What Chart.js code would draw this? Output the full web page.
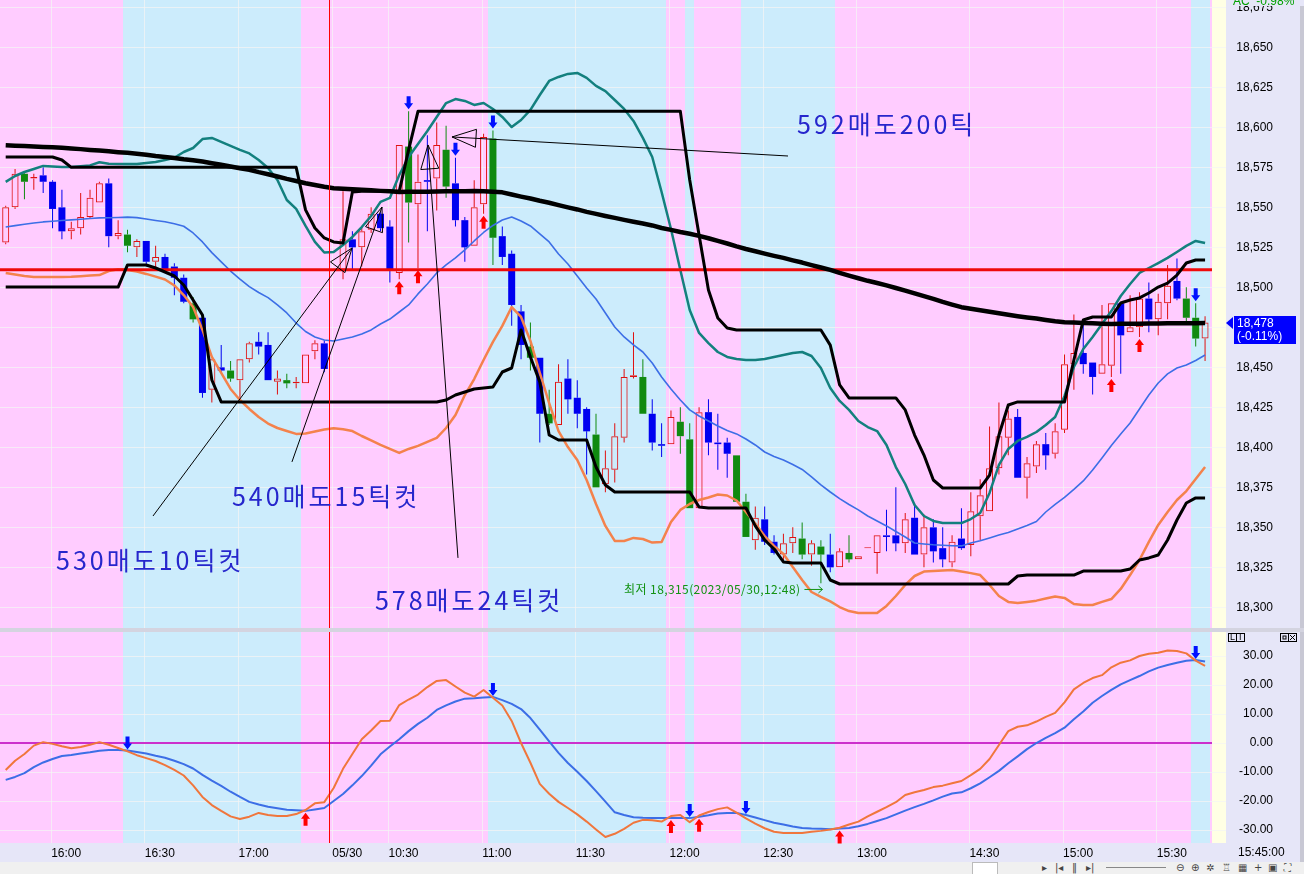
<!DOCTYPE html>
<html><head><meta charset="utf-8">
<script src="https://cdn.jsdelivr.net/npm/chart.js@4.4.1/dist/chart.umd.min.js"></script>
<style>
html,body{margin:0;padding:0;background:#fff;}
#wrap{position:relative;width:1304px;height:874px;overflow:hidden;background:#e6e6f8;}
#pc{position:absolute;left:0;top:0;}
#sep{position:absolute;left:0;top:628px;width:1304px;height:4px;background:#d4d4e0;}
#oc{position:absolute;left:0;top:632px;}
#tb{position:absolute;left:0;top:862px;width:1304px;height:12px;background:#f0f0f0;font:10px 'DejaVu Sans';color:#444;line-height:12px;white-space:nowrap;}
#tb span{position:absolute;top:0;}
</style></head><body><div id="wrap">
<canvas id="pc" width="1304" height="628"></canvas>
<div id="sep"></div>
<canvas id="oc" width="1304" height="242"></canvas>
<div id="tb">
<span style="left:972px;width:24px;height:11px;background:#fff;border:1px solid #bbb;top:0"></span>
<span style="left:1042px">▸</span><span style="left:1055px">|◂</span><span style="left:1072px">‖</span><span style="left:1086px">▸|</span>
<span style="left:1106px;top:5px;width:60px;height:1px;background:#888"></span>
<span style="left:1176px">⊖</span><span style="left:1191px">⊕</span><span style="left:1206px">✲</span><span style="left:1222px">♖</span><span style="left:1238px">▦</span><span style="left:1254px">+</span><span style="left:1268px">▣</span><span style="left:1284px">⛶</span>
</div>
</div>
<script>
// ---------------- DATA ----------------
const open = [18528,18550,18571,18568,18570,18566,18550,18535,18537,18544,
18553,18565,18532,18533,18525,18529,18516,18519,18513,18506,
18490,18481,18436,18450,18448,18442,18455,18466,18464,18441,
18442,18440,18440,18460,18465,null,18511,18530,18525,18536,
18546,18538,18509,18588,18552,18567,18568,18586,18565,18542,
18526,18552,18593,18532,18521,18485,18463,18456,18421,18414,
18443,18431,18424,18408,18377,18386,18406,18444,18444,18421,
18402,18402,18416,18405,18362,18422,18403,18403,18395,18366,
18342,18355,18341,18333,18340,18343,18333,18338,18333,18325,
18334,18330,18337,18334,18345,18345,18340,18356,18333,18350,
18337,18328,18343,18339,18357,18360,18387,18406,18419,18381,
18388,18402,18396,18411,18452,18459,18453,18446,18451,18490,
18472,18475,18493,18480,18490,18504,18493,18481,18468];
const high = [18551,18574,18572,18571,18575,18567,18561,18541,18559,18561,
18566,18568,18542,18536,18530,18529,18526,18521,18515,18508,
18494,18481,18455,18464,18454,18455,18466,18472,18472,18448,
18446,18444,18458,18467,18467,null,18560,18535,18538,18550,
18547,18542,18589,18610,18583,18595,18603,18601,18581,18544,
18567,18596,18598,18538,18523,18489,18478,18456,18436,18452,
18455,18442,18425,18421,18398,18415,18449,18472,18455,18430,
18415,18423,18425,18415,18425,18430,18421,18406,18395,18371,
18363,18363,18345,18346,18350,18353,18342,18342,18346,18337,
18345,18332,18337,18345,18361,18375,18359,18365,18358,18355,
18350,18345,18362,18372,18380,18413,18428,18423,18424,18394,
18404,18409,18415,18458,18483,18478,18453,18489,18490,18490,
18495,18497,18503,18496,18514,18518,18500,18490,18482];
const low = [18527,18549,18555,18561,18559,18537,18530,18530,18533,18543,
18553,18525,18530,18522,18519,18513,18511,18509,18495,18490,
18478,18431,18428,18447,18441,18429,18453,18458,18442,18433,
18437,18437,18440,18455,18447,null,18505,18511,18513,18534,
18535,18503,18505,18528,18512,18535,18548,18556,18538,18516,
18526,18546,18514,18514,18476,18455,18448,18403,18414,18414,
18421,18412,18383,18375,18372,18378,18403,18443,18421,18398,
18394,18402,18396,18362,18362,18395,18386,18381,18366,18344,
18336,18339,18333,18328,18334,18330,18326,18315,18322,18325,
18328,18330,18337,18321,18335,18335,18334,18333,18325,18328,
18325,18325,18336,18332,18342,18360,18383,18395,18381,18368,
18384,18386,18393,18409,18436,18446,18433,18446,18444,18446,
18472,18469,18472,18470,18480,18492,18478,18463,18454];
const close = [18550,18571,18566,18569,18566,18549,18535,18537,18544,18556,
18565,18532,18534,18526,18529,18516,18519,18511,18506,18491,
18480,18434,18455,18448,18443,18455,18465,18463,18442,18443,
18440,18441,18458,18465,18449,null,18530,18525,18535,18546,
18537,18511,18589,18553,18566,18566,18589,18563,18542,18525,
18550,18594,18531,18519,18489,18464,18456,18421,18415,18441,
18430,18421,18410,18375,18387,18407,18444,18445,18421,18403,
18401,18419,18407,18362,18422,18403,18402,18396,18366,18344,
18356,18341,18334,18340,18344,18333,18340,18333,18325,18335,
18330,18332,18337,18345,18344,18340,18355,18333,18350,18335,
18330,18341,18337,18360,18370,18387,18407,18418,18381,18390,
18402,18395,18410,18452,18459,18452,18444,18452,18490,18470,
18475,18493,18480,18491,18501,18493,18481,18468,18478];
// down bars drawn in green instead of blue
const greenBars = [2,13,20,24,30,43,47,52,56,58,63,68,72,73,78,79,85,87,90,126,127];

const ma200 = [18588.8,18588.5,18588.3,18588.0,18587.7,18587.5,18587.2,18586.8,18586.4,18585.9,
18585.5,18585.0,18584.5,18584.1,18583.5,18582.9,18582.1,18581.5,18580.9,18580.1,
18579.5,18578.7,18577.6,18576.6,18575.5,18574.5,18573.5,18572.0,18570.7,18569.3,
18567.8,18566.5,18565.1,18564.0,18562.9,18562.0,18561.7,18561.3,18561.0,18560.7,
18560.3,18560.0,18559.6,18559.7,18559.7,18559.8,18559.9,18560.0,18560.0,18560.1,
18560.2,18560.0,18559.8,18559.4,18558.0,18556.7,18555.5,18554.1,18552.9,18551.4,
18550.0,18548.7,18547.2,18545.9,18544.6,18543.4,18542.2,18541.0,18539.9,18538.7,
18537.1,18535.9,18534.6,18533.5,18532.2,18530.7,18529.0,18527.4,18525.6,18524.0,
18522.6,18521.1,18519.7,18518.4,18516.9,18515.5,18513.9,18512.4,18510.9,18509.0,
18507.3,18505.7,18504.1,18502.7,18501.2,18499.6,18498.0,18496.2,18494.5,18492.8,
18490.9,18489.2,18487.6,18486.6,18485.7,18484.7,18483.8,18482.9,18482.0,18481.2,
18480.5,18479.6,18478.8,18478.2,18478.0,18477.8,18477.5,18477.3,18477.1,18477.2,
18477.2,18477.3,18477.4,18477.4,18477.5,18477.5,18477.6,18477.6,18477.7];
const chanHigh = [18581.5,18581.5,18581.5,18581.5,18581.5,18581.5,18579.6,18575,18575,18575,
18575,18575,18575,18575,18575,18575,18575,18575,18575,18575,
18575,18575,18575,18575,18575,18575,18575,18575,18575,18575,
18575,18575,18548.4,18537.1,18530.9,18528.4,18527.7,18559.6,18560,18560,
18560,18560,18560,18585.9,18610,18610,18610,18610,18610,18610,
18610,18610,18610,18610,18610,18610,18610,18610,18610,18610,
18610,18610,18610,18610,18610,18610,18610,18610,18610,18610,
18610,18610,18610,18567.1,18532.7,18498.4,18480.8,18474.6,18473.4,18473.4,
18473.4,18473.4,18473.4,18473.4,18473.4,18473.4,18473.4,18473.4,18463.9,18439,
18430.9,18430.9,18430.9,18430.9,18430.9,18430.9,18423.4,18407.7,18395.2,18379.6,
18374.6,18374.6,18374.6,18374.6,18374.6,18382.7,18407.7,18426.5,18428.4,18428.4,
18428.4,18428.4,18428.4,18428.4,18454.6,18479.6,18481.5,18481.5,18481.5,18490.2,
18492.1,18493.4,18496.5,18500.2,18502.7,18507.7,18515.2,18517.1,18517.1];
const chanLow = [18500.2,18500.2,18500.2,18500.2,18500.2,18500.2,18500.2,18500.2,18500.2,18500.2,
18500.2,18500.2,18500.2,18514,18514,18514,18512.1,18509.6,18507.1,18501.5,
18492.1,18482.7,18442.1,18428.4,18428.4,18428.4,18428.4,18428.4,18428.4,18428.4,
18428.4,18428.4,18428.4,18428.4,18428.4,18428.4,18428.4,18428.4,18428.4,18428.4,
18428.4,18428.4,18428.4,18428.4,18428.4,18428.4,18428.4,18429.6,18432.7,18434.6,
18436.5,18437.1,18437.7,18447.1,18449.6,18473.4,18456.5,18440.9,18407.7,18404.6,
18404.6,18404.6,18404.6,18387.7,18376.5,18372.1,18372.1,18372.1,18372.1,18372.1,
18372.1,18372.1,18372.1,18372.1,18362.7,18362.1,18362.1,18362.1,18362.1,18362.1,
18350.9,18342.1,18336.5,18328.4,18327.7,18327.7,18327.7,18327.7,18317.1,18314.6,
18314.6,18314.6,18314.6,18314.6,18314.6,18314.6,18314.6,18314.6,18314.6,18314.6,
18314.6,18314.6,18314.6,18314.6,18314.6,18314.6,18314.6,18314.6,18319.6,18320.2,
18320.2,18320.2,18320.2,18320.2,18320.2,18322.7,18322.7,18322.7,18322.7,18322.7,
18324,18329.6,18330.9,18332.7,18342.1,18354.6,18365.2,18368.4,18368.4];
const bbUpper = [18565.9,18569.6,18572.1,18574.0,18575.9,18575.5,18575.2,18575.2,18575.7,18576.2,
18578.2,18577.2,18577.1,18577.1,18577.1,18577.7,18578.4,18579.6,18581.0,18584.6,
18587.1,18592.7,18593.4,18590.9,18588.4,18585.9,18583.7,18579.6,18574.6,18567.1,
18554.6,18549.0,18538.4,18528.4,18521.8,18522.1,18526.5,18531.5,18537.7,18544.6,
18553.4,18555.9,18570.2,18581.5,18589.6,18597.7,18606.5,18615.2,18617.7,18616.5,
18614.0,18615.2,18611.5,18606.5,18600.2,18604.6,18610.9,18620.2,18629.0,18631.5,
18633.4,18634.0,18630.9,18625.9,18622.7,18617.1,18611.5,18604.0,18593.4,18581.5,
18559.6,18536.5,18510.9,18485.9,18471.5,18465.2,18459.6,18456.5,18455.2,18454.6,
18454.6,18455.2,18456.5,18457.7,18459.0,18459.6,18457.1,18449.6,18437.1,18429.0,
18423.4,18416.5,18412.7,18410.2,18401.5,18387.7,18377.1,18364.0,18357.1,18354.0,
18352.7,18352.7,18352.7,18355.2,18359.0,18371.5,18389.0,18399.0,18404.0,18406.5,
18409.6,18414.0,18419.0,18432.1,18450.2,18461.5,18469.0,18477.1,18485.2,18494.6,
18502.1,18509.0,18512.1,18515.2,18518.4,18522.1,18525.9,18529.0,18527.7];
const bbMid = [18537.7,18538.6,18539.4,18540.2,18540.9,18541.3,18541.8,18542.2,18542.6,18543.0,
18543.4,18543.5,18543.7,18543.9,18543.6,18542.7,18541.8,18541.0,18539.7,18538.2,
18534.0,18528.4,18521.7,18515.9,18510.2,18505.2,18500.5,18496.8,18493.6,18489.0,
18484.0,18477.7,18472.4,18469.0,18467.1,18466.5,18467.7,18469.0,18470.9,18473.4,
18477.1,18480.2,18484.6,18489.0,18495.9,18502.1,18509.0,18514.0,18518.4,18523.4,
18529.0,18534.3,18538.7,18542.1,18544.0,18541.5,18538.4,18533.4,18528.4,18520.9,
18514.6,18507.1,18499.6,18492.7,18484.0,18475.2,18469.0,18464.0,18459.6,18452.7,
18444.0,18436.5,18429.6,18423.4,18419.6,18416.5,18413.4,18410.5,18408.4,18405.2,
18401.5,18397.1,18394.3,18392.1,18389.3,18386.2,18381.5,18376.5,18372.1,18368.0,
18364.3,18360.9,18357.1,18354.0,18350.9,18347.4,18344.0,18340.2,18339.6,18339.1,
18338.8,18338.5,18338.4,18340.2,18341.6,18343.4,18345.2,18346.8,18349.0,18351.2,
18353.7,18359.6,18364.3,18368.7,18373.7,18379.0,18385.9,18393.4,18401.2,18408.4,
18415.2,18424.0,18432.7,18440.2,18445.9,18449.6,18451.5,18454.3,18457.7];
const bbLower = [18509.0,18508.0,18507.1,18506.5,18506.5,18506.5,18506.5,18506.6,18507.0,18507.4,
18507.7,18510.2,18511.3,18510.9,18509.9,18508.4,18506.7,18504.9,18501.2,18495.2,
18487.7,18473.4,18456.5,18446.5,18436.5,18429.6,18424.0,18419.0,18414.9,18412.1,
18410.2,18408.4,18408.7,18409.9,18411.2,18411.9,18411.3,18410.2,18407.1,18404.3,
18401.5,18399.0,18396.5,18399.0,18400.9,18403.4,18405.9,18412.1,18420.2,18432.7,
18442.7,18454.6,18465.9,18475.9,18487.7,18481.5,18466.5,18446.5,18427.7,18410.2,
18400.2,18392.1,18379.6,18364.6,18350.9,18341.5,18341.5,18343.4,18342.7,18340.5,
18340.9,18353.4,18360.9,18364.6,18367.1,18368.7,18370.5,18369.9,18366.8,18359.6,
18352.4,18344.6,18338.4,18333.4,18325.2,18317.1,18309.6,18306.5,18303.7,18300.2,
18297.7,18296.5,18296.5,18296.5,18300.9,18307.1,18314.0,18319.6,18322.4,18322.7,
18323.0,18323.4,18322.4,18321.4,18320.2,18314.0,18307.1,18303.4,18302.7,18303.4,
18304.2,18305.5,18306.8,18305.9,18302.1,18301.5,18301.5,18303.4,18305.2,18311.5,
18320.2,18329.6,18340.9,18351.5,18359.6,18367.1,18372.7,18380.2,18387.7];
const oscFast = [-9.3,-6.1,-3.8,-0.9,0.3,-0.3,-1.1,-1.8,-1.4,-0.6,
0.3,-0.6,-1.7,-2.9,-4.2,-5.2,-6.2,-7.6,-9.3,-11.2,
-14.6,-18.6,-21.4,-23.4,-25.3,-26.2,-25.4,-24.1,-24.8,-25.2,
-25.2,-24.5,-23.1,-20.8,-20.4,-15.5,-8.9,-3.8,1.3,4.3,
7.6,7.7,13.1,15.0,16.7,19.3,21.4,21.7,19.5,17.4,
16.0,18.3,15.6,12.9,7.6,0.0,-6.8,-14.1,-17.5,-20.3,
-22.4,-24.6,-27.1,-29.8,-32.4,-31.3,-29.6,-27.5,-26.5,-26.6,
-27.1,-25.2,-24.8,-27.3,-25.0,-23.8,-22.8,-22.2,-24.0,-26.0,
-27.8,-29.4,-30.6,-31.0,-31.0,-31.0,-30.6,-30.3,-29.8,-29.2,
-28.1,-27.1,-25.3,-23.7,-22.1,-20.4,-17.9,-17.0,-16.2,-15.2,
-14.7,-13.9,-13.1,-11.1,-8.9,-5.5,-0.7,4.1,5.6,6.1,
7.4,9.0,10.4,14.0,18.5,20.7,22.4,23.4,26.1,27.7,
28.5,30.0,30.8,31.1,31.9,31.7,30.9,28.4,26.6];
const oscSignal = [-12.7,-11.7,-10.4,-8.3,-6.7,-5.5,-4.5,-4.1,-3.6,-3.2,
-2.7,-2.4,-2.4,-2.6,-3.1,-3.6,-4.4,-5.1,-6.1,-7.3,
-8.8,-11.0,-13.0,-14.8,-16.8,-18.6,-20.3,-21.2,-22.0,-22.5,
-23.0,-23.2,-23.4,-22.9,-22.4,-20.0,-17.6,-14.6,-11.4,-7.8,
-3.9,-1.2,1.3,4.1,6.6,8.7,11.4,13.0,14.3,15.3,
15.4,15.7,15.9,14.8,13.5,11.7,8.6,4.6,0.6,-3.4,
-6.9,-9.9,-13.1,-16.6,-20.2,-23.9,-24.8,-25.6,-25.8,-25.9,
-25.9,-25.9,-25.9,-25.9,-25.4,-24.9,-24.3,-24.1,-24.1,-24.8,
-25.7,-26.6,-27.5,-28.1,-28.8,-29.3,-29.5,-29.6,-29.7,-29.5,
-29.3,-28.7,-27.9,-26.9,-25.9,-24.6,-23.3,-22.1,-21.0,-19.8,
-18.5,-17.4,-17.0,-15.6,-13.9,-11.8,-9.6,-7.0,-4.6,-2.1,
0.0,1.8,3.4,5.3,8.2,10.9,13.9,16.2,18.3,20.2,
21.7,23.1,24.7,26.0,26.9,27.7,28.4,28.6,28.1];

// signals (bar indices)
const priceSellSig = [43,48,52,127];
const priceBuySig = [42,44,51,118,121];
const oscSellSig = [13,52,73,79,127];
const oscBuySig = [32,71,74,89];

// time axis
const tickBars = [5,15,25,35,41,51,61,71,81,91,103,113,123];
const tickLabels = ['16:00','16:30','17:00','05/30','10:30','11:00','11:30','12:00','12:30','13:00','14:30','15:00','15:30'];
const dayBreakBar = 35;
const priceTicks = [18300,18325,18350,18375,18400,18425,18450,18475,18500,18525,18550,18575,18600,18625,18650,18675];
const oscTicks = [-30,-20,-10,0,10,20,30];
const hLinePrice = 18511;
const lastChgPct = -0.11;
const acPct = -0.98;
const lastTime = '15:45:00';

// drawn annotations (bar index, price)
const trendLines = [[15.72,18357.1,36.96,18524.6],[30.55,18390.9,40.16,18550.2],[48.27,18330.9,45.07,18589.0],[83.49,18582.1,47.63,18594.0]];
const noteTexts = ['592매도200틱','540매도15틱컷','530매도10틱컷','578매도24틱컷'];
const noteBars = [84.46,24.15,5.37,39.41];
const notePrices = [18601.5,18369,18329,18304];
const lowNote = '최저 18,315(2023/05/30,12:48)';
const lowNoteBar = 66.0, lowNotePrice = 18311.5;

// ---------------- STYLE / LAYOUT ----------------
const N = close.length;
const X_MIN = -0.608, X_MAX = 128.74;
const P_MAX = 18679.6, P_MIN = 18287.1;
const O_MAX = 38.28, O_MIN = -34.48;
const PINK = '#ffccff', SKY = '#ccecfc', YEL = '#ffffe4', LAV = '#e6e6f8';
const GRID = 'rgba(244,244,244,0.75)';
const RED = '#e01010', BLUE = '#0000f0', GREEN = '#108a10';
const FONT = "'Liberation Sans', Arial, sans-serif";

function candleColor(i){ if (close[i] >= open[i]) return RED; return greenBars.includes(i) ? GREEN : BLUE; }
function sellState(i){
  let st = false;
  for (let k=0;k<=i;k++){ if (oscSellSig.includes(k)) st = true; if (oscBuySig.includes(k)) st = false; }
  return st;
}

const bgPlugin = {
  id:'bg',
  beforeDraw(chart){
    const {ctx, chartArea:a, scales:{x}} = chart;
    ctx.save();
    ctx.fillStyle = LAV; ctx.fillRect(0,0,chart.width,chart.height);
    ctx.fillStyle = PINK; ctx.fillRect(a.left,a.top,a.right-a.left,a.bottom-a.top);
    ctx.fillStyle = SKY;
    for (let i=0;i<N;i++){
      if (sellState(i)){
        const x0 = Math.max(a.left, x.getPixelForValue(i-0.5));
        const x1 = Math.min(a.right, x.getPixelForValue(i+0.5));
        ctx.fillRect(Math.round(x0), a.top, Math.round(x1)-Math.round(x0), a.bottom-a.top);
      }
    }
    ctx.fillStyle = YEL; ctx.fillRect(a.right, a.top, 14, a.bottom-a.top);
    ctx.fillStyle = '#c8c8d4'; ctx.fillRect(chart.width-4, 0, 4, chart.height);
    ctx.restore();
  },
  afterDatasetsDraw(chart){
    const {ctx, chartArea:a, scales:{x}} = chart;
    const px = Math.round(x.getPixelForValue(dayBreakBar-0.5));
    ctx.save(); ctx.fillStyle='#ff0000';
    ctx.fillRect(px, a.top, 1, a.bottom-a.top); ctx.restore();
  }
};

function drawArrow(ctx, x, yTip, dir, color){
  const hw=4.5, hl=6, sw=2, sl=7;
  ctx.fillStyle=color; ctx.beginPath();
  ctx.moveTo(x, yTip);
  ctx.lineTo(x-hw, yTip-dir*hl); ctx.lineTo(x-sw, yTip-dir*hl);
  ctx.lineTo(x-sw, yTip-dir*(hl+sl)); ctx.lineTo(x+sw, yTip-dir*(hl+sl));
  ctx.lineTo(x+sw, yTip-dir*hl); ctx.lineTo(x+hw, yTip-dir*hl);
  ctx.closePath(); ctx.fill();
}

const pricePlugin = {
  id:'priceAnno',
  afterDatasetsDraw(chart){
    const {ctx, scales:{x,y}, chartArea:a} = chart;
    ctx.save();
    ctx.beginPath(); ctx.rect(a.left,a.top,a.right-a.left,a.bottom-a.top); ctx.clip();
    ctx.strokeStyle='#000'; ctx.lineWidth=1;
    trendLines.forEach(t=>{
      const x1=x.getPixelForValue(t[0]), y1=y.getPixelForValue(t[1]);
      const x2=x.getPixelForValue(t[2]), y2=y.getPixelForValue(t[3]);
      ctx.beginPath(); ctx.moveTo(x1,y1); ctx.lineTo(x2,y2); ctx.stroke();
      const L=Math.hypot(x2-x1,y2-y1), dx=(x2-x1)/L, dy=(y2-y1)/L, hl=24, hw=9;
      const bx=x2-dx*hl, by=y2-dy*hl;
      ctx.beginPath(); ctx.moveTo(x2,y2); ctx.lineTo(bx-dy*hw, by+dx*hw); ctx.lineTo(bx+dy*hw, by-dx*hw); ctx.closePath(); ctx.stroke();
    });
    ctx.fillStyle='#2626cc'; ctx.font="25px 'Noto Sans CJK KR'"; ctx.textBaseline='middle'; ctx.textAlign='left';
    try{ ctx.letterSpacing='3px'; }catch(e){}
    noteTexts.forEach((t,k)=>{ ctx.fillText(t, x.getPixelForValue(noteBars[k]), y.getPixelForValue(notePrices[k])); });
    try{ ctx.letterSpacing='0.4px'; }catch(e){}
    ctx.fillStyle='#139213'; ctx.font="12px 'Noto Sans CJK KR'";
    const lx=x.getPixelForValue(lowNoteBar), ly=y.getPixelForValue(lowNotePrice);
    ctx.fillText(lowNote, lx, ly);
    const w=ctx.measureText(lowNote).width;
    try{ ctx.letterSpacing='0px'; }catch(e){}
    ctx.strokeStyle='#139213'; ctx.beginPath(); ctx.moveTo(lx+w+4,ly+0.5); ctx.lineTo(lx+w+22,ly+0.5);
    ctx.moveTo(lx+w+18,ly-3); ctx.lineTo(lx+w+22,ly+0.5); ctx.lineTo(lx+w+18,ly+4); ctx.stroke();
    priceSellSig.forEach(i=> drawArrow(ctx, x.getPixelForValue(i), y.getPixelForValue(high[i])-2, 1, '#0010ff'));
    priceBuySig.forEach(i=> drawArrow(ctx, x.getPixelForValue(i), y.getPixelForValue(low[i])+2, -1, '#ff0000'));
    ctx.restore();
  },
  afterDraw(chart){
    const {ctx, scales:{y}, chartArea:a} = chart;
    const yc = Math.round(y.getPixelForValue(close[N-1]));
    ctx.save();
    ctx.fillStyle='#0000ff';
    ctx.beginPath(); ctx.moveTo(a.right+14,yc); ctx.lineTo(a.right+21,yc-6); ctx.lineTo(a.right+21,yc+6); ctx.closePath(); ctx.fill();
    ctx.fillRect(a.right+22, yc-7, 62, 28);
    ctx.fillStyle='#fff'; ctx.font="12px "+FONT; ctx.textBaseline='middle'; ctx.textAlign='left';
    ctx.fillText(close[N-1].toLocaleString('en-US'), a.right+25, yc+1);
    ctx.fillText('('+lastChgPct.toFixed(2)+'%)', a.right+25, yc+14);
    ctx.fillStyle=LAV; ctx.fillRect(a.right+16, 0, 80, 6);
    ctx.fillStyle='#00a000'; ctx.font="12px "+FONT; ctx.textBaseline='alphabetic';
    ctx.fillText('AC  '+acPct.toFixed(2)+'%', a.right+21, 5);
    ctx.restore();
  }
};

const oscPlugin = {
  id:'oscAnno',
  afterDatasetsDraw(chart){
    const {ctx, scales:{x,y}} = chart;
    ctx.save();
    oscSellSig.forEach(i=> drawArrow(ctx, x.getPixelForValue(i), y.getPixelForValue(oscSignal[i])-1, 1, '#0010ff'));
    oscBuySig.forEach(i=> drawArrow(ctx, x.getPixelForValue(i), y.getPixelForValue(oscSignal[i])+2, -1, '#ff0000'));
    ctx.restore();
  },
  afterDraw(chart){
    const {ctx, chartArea:a} = chart;
    ctx.save();
    ctx.fillStyle='#000'; ctx.font="12px "+FONT; ctx.textBaseline='middle'; ctx.textAlign='left';
    ctx.fillText(lastTime, a.right+26, a.bottom+10);
    ctx.strokeStyle='#000'; ctx.lineWidth=1; ctx.font="9px "+FONT;
    ctx.strokeRect(a.right+16.5, 1.5, 8, 8); ctx.strokeRect(a.right+24.5, 1.5, 8, 8);
    ctx.fillText('L', a.right+18, 6); ctx.fillText('I', a.right+27, 6);
    ctx.strokeRect(a.right+68.5, 1.5, 8, 8); ctx.strokeRect(a.right+76.5, 1.5, 8, 8);
    ctx.strokeRect(a.right+71, 4, 3, 3);
    ctx.beginPath(); ctx.moveTo(a.right+78,3); ctx.lineTo(a.right+83,8); ctx.moveTo(a.right+83,3); ctx.lineTo(a.right+78,8); ctx.stroke();
    ctx.restore();
  }
};

// ---------------- DATASETS ----------------
const bars = [...Array(N).keys()].filter(i=>open[i]!=null);
const pts = arr => arr.map((v,i)=>({x:i,y:v}));
const lineDs = (arr,color,w,order) => ({type:'line', data:pts(arr), borderColor:color, borderWidth:w, pointRadius:0, tension:0, fill:false, order:order, borderJoinStyle:'round'});
const barCommon = {type:'bar', grouped:false, inflateAmount:0, borderSkipped:false};

const priceDatasets = [
  lineDs(bbLower,'#f4824c',2.5,1),
  lineDs(bbMid,'#3c6ee6',1.6,1),
  lineDs(bbUpper,'#13807e',2.5,1),
  lineDs(chanLow,'#000',3,0),
  lineDs(chanHigh,'#000',3,0),
  lineDs(ma200,'#000',4.5,0),
  {type:'line', data:[{x:X_MIN,y:hLinePrice},{x:X_MAX,y:hLinePrice}], borderColor:'#ee0a0a', borderWidth:3, pointRadius:0, order:0},
  Object.assign({}, barCommon, {order:5, barThickness:1,
    data: bars.map(i=>({x:i, y:[low[i], Math.min(open[i],close[i])]})),
    backgroundColor: c=>candleColor(c.raw.x), borderWidth:0}),
  Object.assign({}, barCommon, {order:5, barThickness:1,
    data: bars.map(i=>({x:i, y:[Math.max(open[i],close[i]), high[i]]})),
    backgroundColor: c=>candleColor(c.raw.x), borderWidth:0}),
  Object.assign({}, barCommon, {order:4, barThickness:7, minBarLength:1,
    data: bars.map(i=>({x:i, y:[open[i], close[i]]})),
    backgroundColor: c=> close[c.raw.x]>=open[c.raw.x] ? 'rgba(0,0,0,0)' : candleColor(c.raw.x),
    borderColor: c=>candleColor(c.raw.x),
    borderWidth: c=> close[c.raw.x]>=open[c.raw.x] ? 1 : 0})
];

const xTicks = s => { s.ticks = tickBars.map(b=>({value:b-0.15})); };
const yAxisFit = s => { s.width=61; s.paddingTop=0; s.paddingBottom=0; };

new Chart(document.getElementById('pc'), {
  type:'line',
  data:{datasets:priceDatasets},
  options:{
    responsive:false, animation:false, devicePixelRatio:1,
    layout:{padding:{left:0,top:0,bottom:0,right:31}},
    plugins:{legend:{display:false}, tooltip:{enabled:false}},
    events:[],
    scales:{
      x:{type:'linear', min:X_MIN, max:X_MAX, offset:false, afterBuildTicks:xTicks,
         ticks:{display:false, autoSkip:false}, grid:{color:GRID, drawTicks:false, offset:false}, border:{display:false},
         afterFit:s=>{s.height=0;}},
      y:{position:'right', min:P_MIN, max:P_MAX,
         afterBuildTicks:s=>{ s.ticks = priceTicks.map(v=>({value:v})); },
         ticks:{autoSkip:false, callback:v=>v.toLocaleString('en-US'), font:{family:FONT,size:12}, color:'#000', padding:10, crossAlign:'far'},
         grid:{color:GRID, drawTicks:true, tickLength:14, tickColor:GRID}, border:{display:false},
         afterFit:yAxisFit}
    }
  },
  plugins:[bgPlugin, pricePlugin]
});

new Chart(document.getElementById('oc'), {
  type:'line',
  data:{datasets:[
    {type:'line', data:[{x:X_MIN,y:0},{x:X_MAX,y:0}], borderColor:'#cc30cc', borderWidth:2, pointRadius:0, order:2},
    lineDs(oscSignal,'#3c6ee6',2,1),
    lineDs(oscFast,'#f0763c',2,0)
  ]},
  options:{
    responsive:false, animation:false, devicePixelRatio:1,
    layout:{padding:{top:0,left:0,right:31,bottom:12}},
    plugins:{legend:{display:false}, tooltip:{enabled:false}},
    events:[],
    scales:{
      x:{type:'linear', min:X_MIN, max:X_MAX, offset:false, afterBuildTicks:xTicks,
         ticks:{autoSkip:false, maxRotation:0, align:'start', padding:3, font:{family:FONT,size:12}, color:'#000',
                callback:(v,k)=>tickLabels[k]},
         grid:{color:GRID, drawTicks:false, offset:false}, border:{display:false},
         afterFit:s=>{s.height=19; s.paddingLeft=0; s.paddingRight=0;}},
      y:{position:'right', min:O_MIN, max:O_MAX,
         afterBuildTicks:s=>{ s.ticks = oscTicks.map(v=>({value:v})); },
         ticks:{autoSkip:false, callback:v=>v.toFixed(2), font:{family:FONT,size:12}, color:'#000', padding:10, crossAlign:'far'},
         grid:{color:GRID, drawTicks:true, tickLength:14, tickColor:GRID}, border:{display:false},
         afterFit:yAxisFit}
    }
  },
  plugins:[bgPlugin, oscPlugin]
});
</script>
</body></html>
